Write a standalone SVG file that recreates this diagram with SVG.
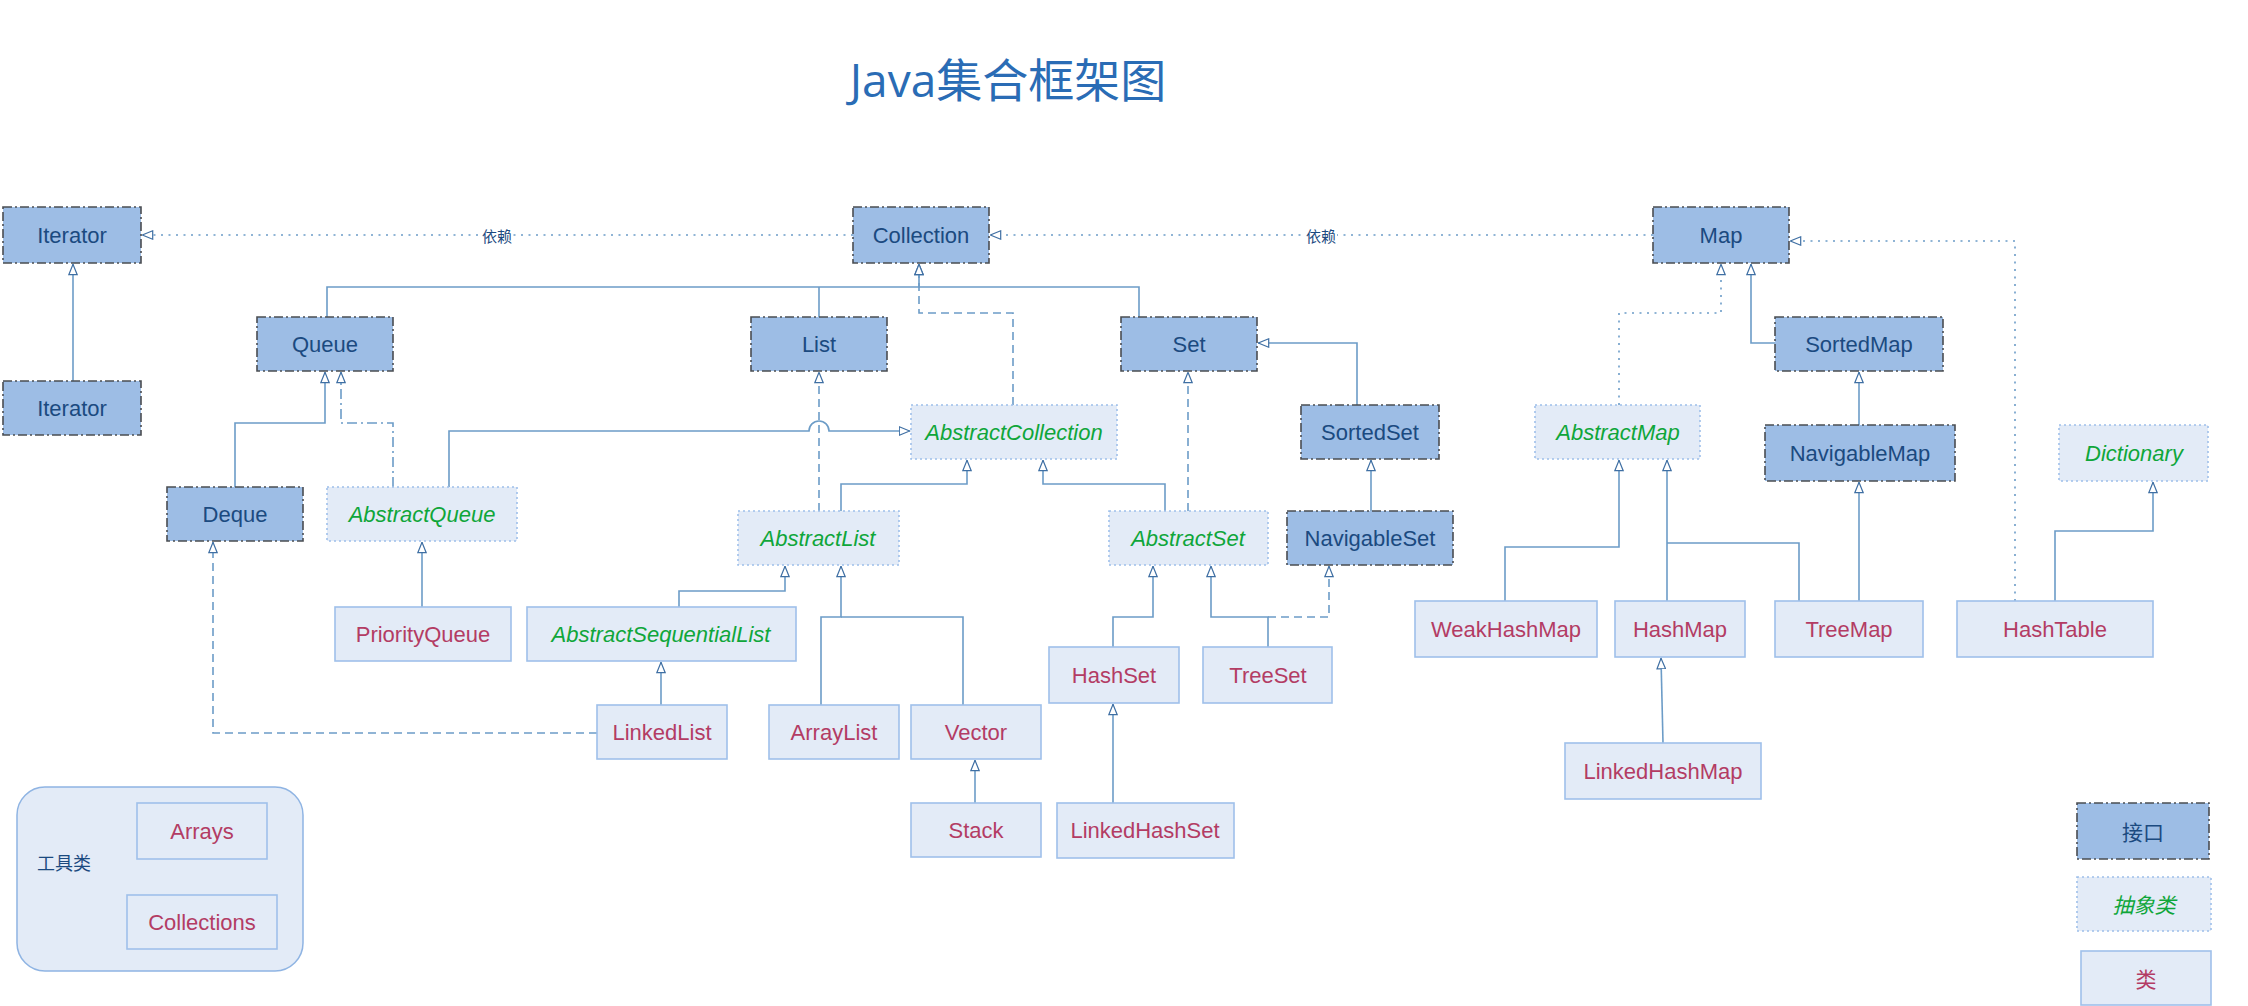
<svg xmlns="http://www.w3.org/2000/svg" width="2248" height="1006" viewBox="0 0 2248 1006">
<style>
.i rect{fill:#9dbde5;stroke:#4a4d52;stroke-width:1.6;stroke-dasharray:9 3 2 3}
.a rect{fill:#e3ebf7;stroke:#9fc0ea;stroke-width:1.6;stroke-dasharray:2 3}
.c rect{fill:#e3ebf7;stroke:#9fc0ea;stroke-width:1.6}
text{font-family:"Liberation Sans",Arial,"Noto Sans CJK SC",sans-serif;font-size:22px;text-anchor:middle;dominant-baseline:central}
.i text{fill:#1b4a80}
.a text{fill:#0fa63a;font-style:italic}
.c text{fill:#b33c64}
.e path{fill:none;stroke:#6c9cc7;stroke-width:1.6}
.dash{stroke-dasharray:8 5}
.dd{stroke-dasharray:10 4 2 4}
.dot{stroke-dasharray:2 5.5}
.lbl{font-size:15px;fill:#1b4a80;font-family:"Noto Sans CJK SC","Liberation Sans",sans-serif}
</style>
<defs>
<marker id="t" viewBox="0 0 12 10" refX="11.5" refY="5" markerWidth="12" markerHeight="10" markerUnits="userSpaceOnUse" orient="auto">
<path d="M0.8,0.8 L11.2,5 L0.8,9.2 Z" fill="#fff" stroke="#3f6fa3" stroke-width="1.2" stroke-dasharray="none"/>
</marker>
</defs>
<rect width="2248" height="1006" fill="#fff"/>
<text x="1008" y="79" style="font-family:'Open Sans','Noto Sans CJK SC',sans-serif;font-size:46px;fill:#2a6cb5">Java集合框架图</text>

<g class="e">
<path d="M73,381 V264" marker-end="url(#t)"/>
<path class="dot" d="M853,235 H142" marker-end="url(#t)"/>
<path class="dot" d="M1653,235 H990" marker-end="url(#t)"/>
<path d="M327,317 V287 H919 V264" marker-end="url(#t)"/>
<path d="M819,317 V287"/>
<path d="M1139,317 V287 H919"/>
<path class="dash" d="M1013,405 V313 H919 V264" marker-end="url(#t)"/>
<path d="M235,487 V423 H325 V372" marker-end="url(#t)"/>
<path class="dd" d="M393,487 V423 H341 V372" marker-end="url(#t)"/>
<path d="M449,487 V431 H809 A10,10 0 0 1 829,431 H910" marker-end="url(#t)"/>
<path class="dash" d="M819,511 V372" marker-end="url(#t)"/>
<path d="M841,511 V484 H967 V460" marker-end="url(#t)"/>
<path d="M1165,511 V484 H1043 V460" marker-end="url(#t)"/>
<path class="dash" d="M1188,511 V372" marker-end="url(#t)"/>
<path d="M1357,405 V343 H1258" marker-end="url(#t)"/>
<path d="M1371,511 V460" marker-end="url(#t)"/>
<path d="M422,607 V542" marker-end="url(#t)"/>
<path d="M679,607 V591 H785 V566" marker-end="url(#t)"/>
<path d="M821,705 V617 H841 V566" marker-end="url(#t)"/>
<path d="M963,705 V617 H841"/>
<path d="M975,803 V760" marker-end="url(#t)"/>
<path d="M661,705 V662" marker-end="url(#t)"/>
<path class="dash" d="M597,733 H213 V542" marker-end="url(#t)"/>
<path d="M1113,647 V617 H1153 V566" marker-end="url(#t)"/>
<path d="M1268,647 V617 H1211 V566" marker-end="url(#t)"/>
<path class="dash" d="M1268,617 H1329 V566" marker-end="url(#t)"/>
<path d="M1113,803 V704" marker-end="url(#t)"/>
<path class="dot" d="M1619,405 V313 H1721 V264" marker-end="url(#t)"/>
<path d="M1775,343 H1751 V264" marker-end="url(#t)"/>
<path d="M1859,425 V372" marker-end="url(#t)"/>
<path d="M1859,601 V482" marker-end="url(#t)"/>
<path d="M1505,601 V547 H1619 V460" marker-end="url(#t)"/>
<path d="M1667,601 V460" marker-end="url(#t)"/>
<path d="M1799,601 V543 H1667"/>
<path class="dot" d="M2015,601 V241 H1790" marker-end="url(#t)"/>
<path d="M2055,601 V531 H2153 V482" marker-end="url(#t)"/>
<path d="M1663,743 L1661,658" marker-end="url(#t)"/>
<rect x="481" y="226" width="32" height="18" fill="#fff"/>
<text class="lbl" x="497" y="235">依赖</text>
<rect x="1305" y="226" width="32" height="18" fill="#fff"/>
<text class="lbl" x="1321" y="235">依赖</text>
</g>

<g id="Iterator" class="i"><rect x="3" y="207" width="138" height="56"/><text x="72" y="235">Iterator</text></g>
<g id="Iterator2" class="i"><rect x="3" y="381" width="138" height="54"/><text x="72" y="408">Iterator</text></g>
<g id="Collection" class="i"><rect x="853" y="207" width="136" height="56"/><text x="921" y="235">Collection</text></g>
<g id="Map" class="i"><rect x="1653" y="207" width="136" height="56"/><text x="1721" y="235">Map</text></g>
<g id="Queue" class="i"><rect x="257" y="317" width="136" height="54"/><text x="325" y="344">Queue</text></g>
<g id="List" class="i"><rect x="751" y="317" width="136" height="54"/><text x="819" y="344">List</text></g>
<g id="Set" class="i"><rect x="1121" y="317" width="136" height="54"/><text x="1189" y="344">Set</text></g>
<g id="SortedMap" class="i"><rect x="1775" y="317" width="168" height="54"/><text x="1859" y="344">SortedMap</text></g>
<g id="SortedSet" class="i"><rect x="1301" y="405" width="138" height="54"/><text x="1370" y="432">SortedSet</text></g>
<g id="NavigableMap" class="i"><rect x="1765" y="425" width="190" height="56"/><text x="1860" y="453">NavigableMap</text></g>
<g id="Deque" class="i"><rect x="167" y="487" width="136" height="54"/><text x="235" y="514">Deque</text></g>
<g id="NavigableSet" class="i"><rect x="1287" y="511" width="166" height="54"/><text x="1370" y="538">NavigableSet</text></g>

<g id="AbstractCollection" class="a"><rect x="911" y="405" width="206" height="54"/><text x="1014" y="432">AbstractCollection</text></g>
<g id="AbstractMap" class="a"><rect x="1535" y="405" width="165" height="54"/><text x="1618" y="432">AbstractMap</text></g>
<g id="Dictionary" class="a"><rect x="2059" y="425" width="149" height="56"/><text x="2134" y="453">Dictionary</text></g>
<g id="AbstractQueue" class="a"><rect x="327" y="487" width="190" height="54"/><text x="422" y="514">AbstractQueue</text></g>
<g id="AbstractList" class="a"><rect x="738" y="511" width="161" height="54"/><text x="818" y="538">AbstractList</text></g>
<g id="AbstractSet" class="a"><rect x="1109" y="511" width="159" height="54"/><text x="1188" y="538">AbstractSet</text></g>
<g id="AbstractSequentialList" class="a"><rect x="527" y="607" width="269" height="54" style="stroke-dasharray:none"/><text x="661" y="634">AbstractSequentialList</text></g>

<g id="PriorityQueue" class="c"><rect x="335" y="607" width="176" height="54"/><text x="423" y="634">PriorityQueue</text></g>
<g id="WeakHashMap" class="c"><rect x="1415" y="601" width="182" height="56"/><text x="1506" y="629">WeakHashMap</text></g>
<g id="HashMap" class="c"><rect x="1615" y="601" width="130" height="56"/><text x="1680" y="629">HashMap</text></g>
<g id="TreeMap" class="c"><rect x="1775" y="601" width="148" height="56"/><text x="1849" y="629">TreeMap</text></g>
<g id="HashTable" class="c"><rect x="1957" y="601" width="196" height="56"/><text x="2055" y="629">HashTable</text></g>
<g id="HashSet" class="c"><rect x="1049" y="647" width="130" height="56"/><text x="1114" y="675">HashSet</text></g>
<g id="TreeSet" class="c"><rect x="1203" y="647" width="129" height="56"/><text x="1268" y="675">TreeSet</text></g>
<g id="LinkedList" class="c"><rect x="597" y="705" width="130" height="54"/><text x="662" y="732">LinkedList</text></g>
<g id="ArrayList" class="c"><rect x="769" y="705" width="130" height="54"/><text x="834" y="732">ArrayList</text></g>
<g id="Vector" class="c"><rect x="911" y="705" width="130" height="54"/><text x="976" y="732">Vector</text></g>
<g id="LinkedHashMap" class="c"><rect x="1565" y="743" width="196" height="56"/><text x="1663" y="771">LinkedHashMap</text></g>
<g id="Stack" class="c"><rect x="911" y="803" width="130" height="54"/><text x="976" y="830">Stack</text></g>
<g id="LinkedHashSet" class="c"><rect x="1057" y="803" width="177" height="55"/><text x="1145" y="830">LinkedHashSet</text></g>

<g id="Tools">
<rect x="17" y="787" width="286" height="184" rx="28" fill="#e3ebf7" stroke="#8fb4e3" stroke-width="1.5"/>
<text x="64" y="862" style="font-family:'Noto Sans CJK SC',sans-serif;font-size:18px;fill:#1b4a80">工具类</text>
<g id="Arrays" class="c"><rect x="137" y="803" width="130" height="56"/><text x="202" y="831">Arrays</text></g>
<g id="Collections" class="c"><rect x="127" y="895" width="150" height="54"/><text x="202" y="922">Collections</text></g>
</g>

<g id="legend">
<g id="L_interface" class="i"><rect x="2077" y="803" width="132" height="56"/><text x="2143" y="831" style="font-family:'Noto Sans CJK SC',sans-serif;font-size:21px">接口</text></g>
<g id="L_abstract" class="a"><rect x="2077" y="877" width="134" height="54"/><text x="2144" y="904" style="font-family:'Noto Sans CJK SC',sans-serif;font-size:21px">抽象类</text></g>
<g id="L_class" class="c"><rect x="2081" y="951" width="130" height="54"/><text x="2146" y="978" style="font-family:'Noto Sans CJK SC',sans-serif;font-size:21px">类</text></g>
</g>
</svg>
